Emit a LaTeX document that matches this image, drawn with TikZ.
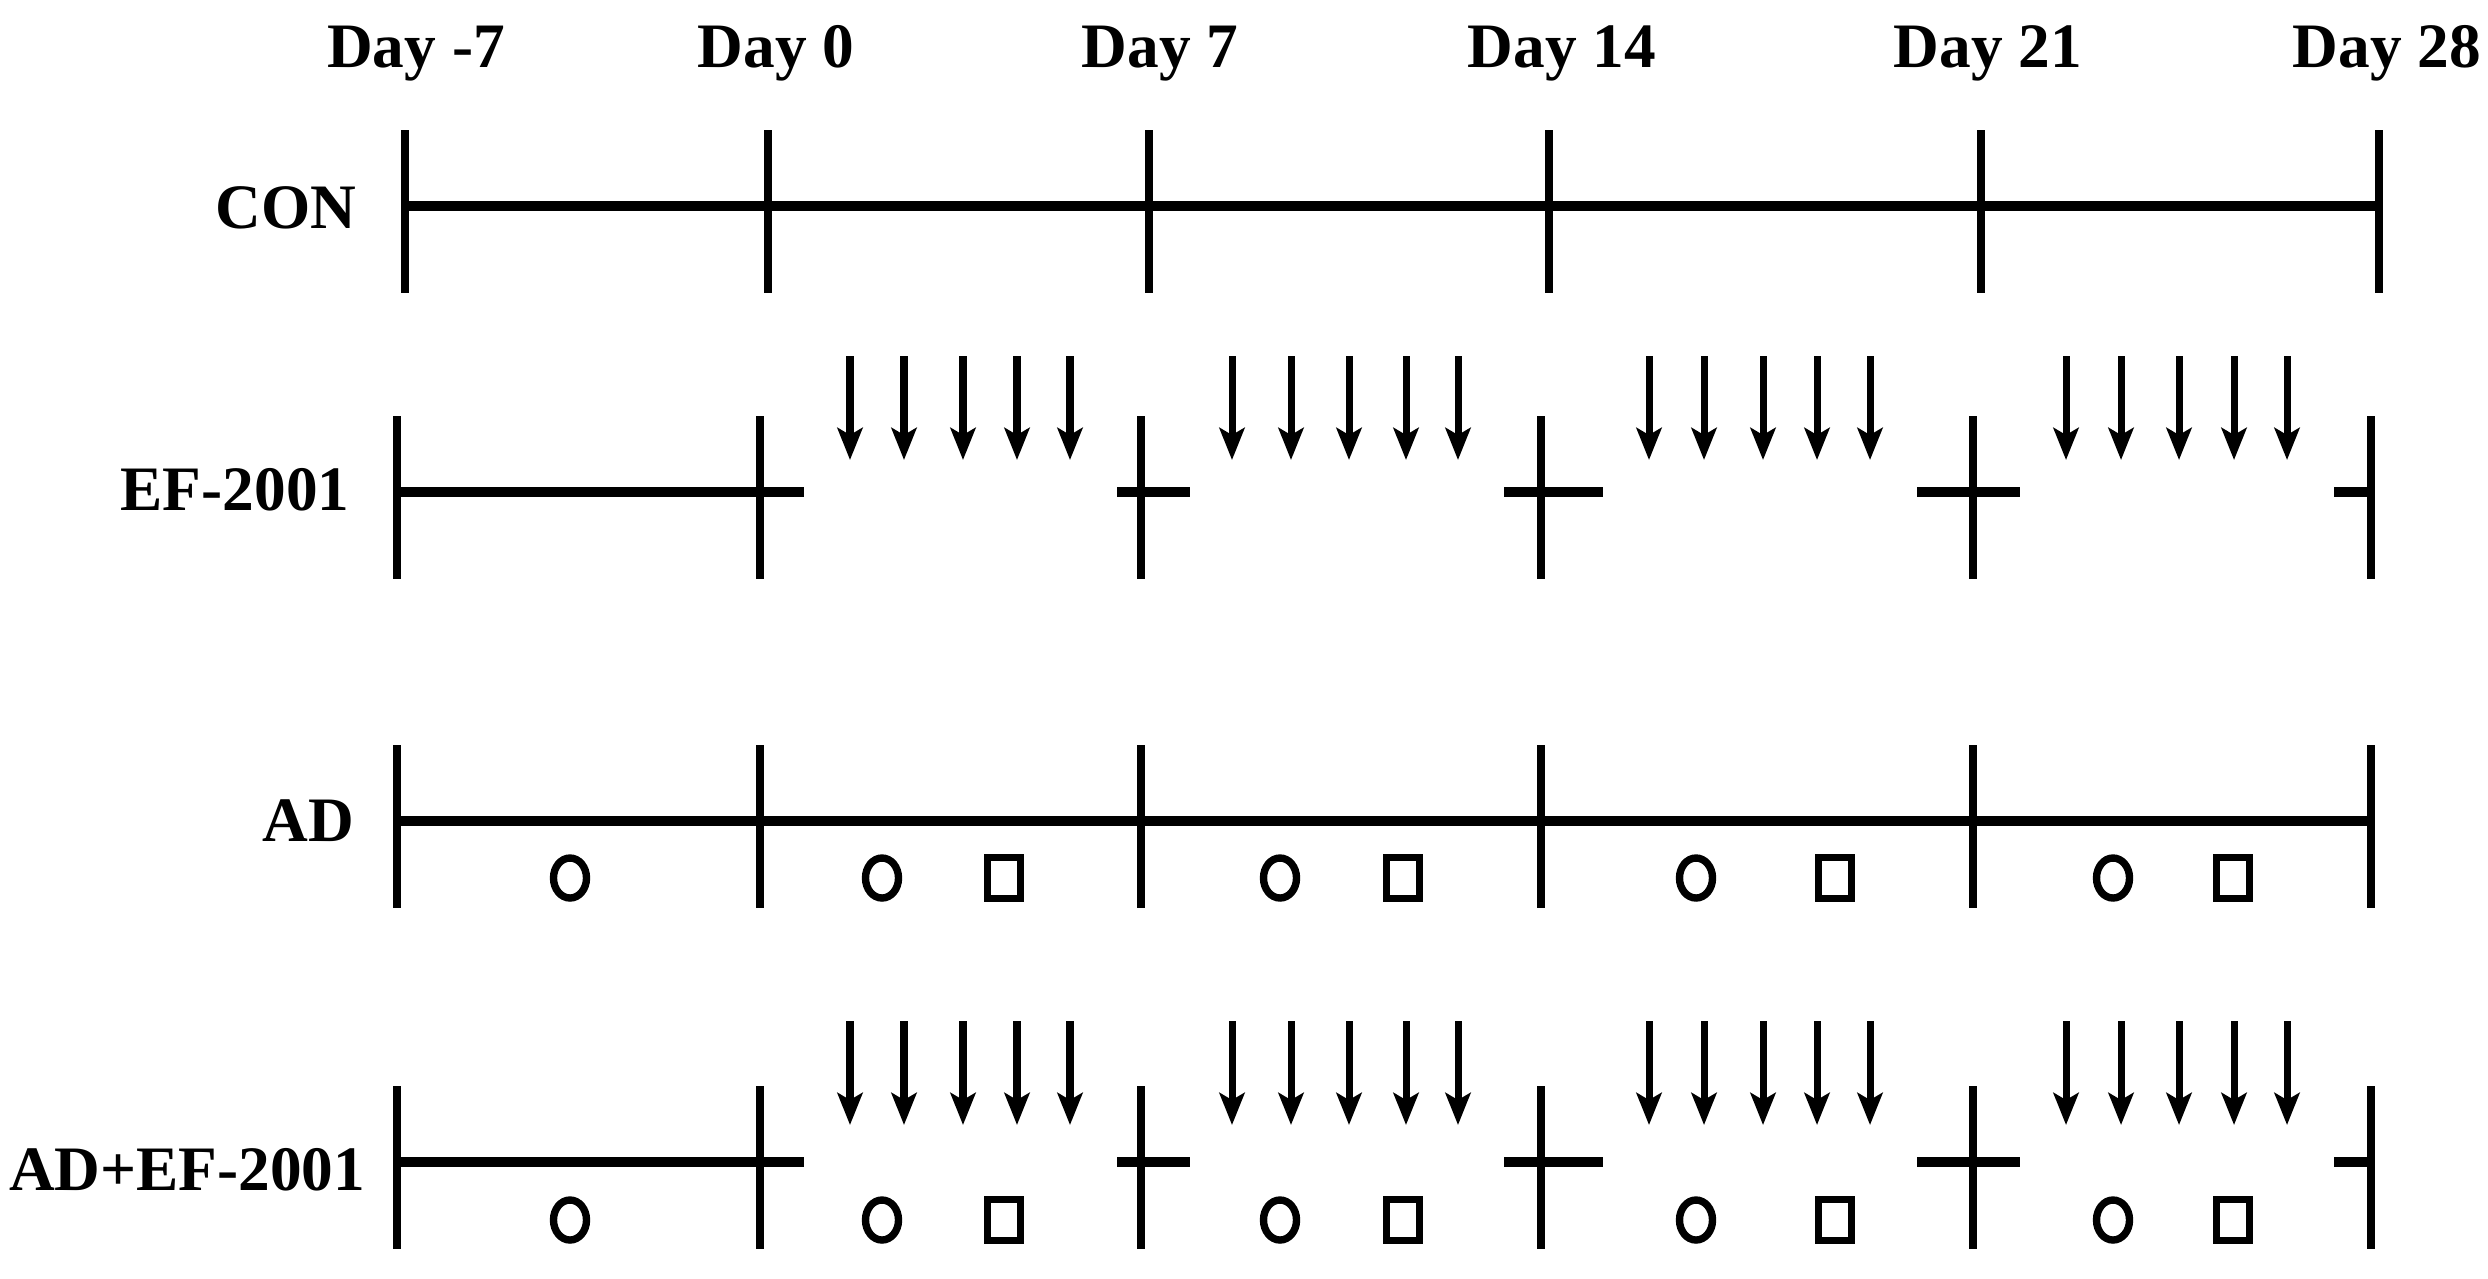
\documentclass[tikz,border=0pt]{standalone}
\usepackage{fontspec}
\setmainfont{Liberation Serif}
\usetikzlibrary{arrows.meta}

\begin{document}
\begin{tikzpicture}[x=0.01cm,y=-0.01cm,
    every node/.style={font=\bfseries\fontsize{18}{20}\selectfont,inner sep=0pt},
    tl/.style={line width=2.6pt},
    tick/.style={line width=2.3pt},
    dose/.style={line width=2pt,-{Stealth[length=0.32cm,width=0.25cm,inset=0.07cm]}},
    sym/.style={line width=2.1pt}]
    \useasboundingbox (0,0) rectangle (2488,1278);
    %days
    \node[anchor=base] (dm7) at (416,67) {Day -7};
    \node[anchor=base] (d0) at (776,67) {Day 0};
    \node[anchor=base] (d7) at (1160,67) {Day 7};
    \node[anchor=base] (d14) at (1562,67) {Day 14};
    \node[anchor=base] (d21) at (1988,67) {Day 21};
    \node[anchor=base] (d28) at (2387,67) {Day 28};
    %groups
    \node[anchor=east] (con) at (357,208) {CON};
    \node[anchor=east] (ef) at (350,490) {EF-2001};
    \node[anchor=east] (ad) at (355,821) {AD};
    \node[anchor=east] (adef) at (366,1170) {AD+EF-2001};
    \foreach \r/\y/\s in {con/206/8,ef/492/0,ad/821/0,adef/1162/0}
        \foreach \d/\x in {0/397,1/760,2/1141,3/1541,4/1973,5/2371}
            \coordinate (\r\d) at (\x+\s,\y);
    \foreach \r in {con,ef,ad,adef}
        \foreach \d in {0,...,5}
            \draw[tick] (\r\d) ++(0,-76) -- ++(0,163);
    \draw[tl] (con0) -- (con5);
    \draw[tl] (ad0) -- (ad5);
    \foreach \r in {ef,adef}{
        \draw[tl] (\r0) -- (\r1) -- ++(44,0);
        \foreach \d/\a/\b in {2/24/49,3/37/62,4/56/47,5/37/0}
            \draw[tl] (\r\d) ++(-\a,0) -- ++(\a+\b,0);
    }
    %doses
    \foreach \t in {356,1021}
        \foreach \x in {850,904,963,1017,1070,1232,1291,1349,1406,1458,
                        1649,1704,1763,1817,1870,2066,2121,2179,2234,2287}
            \draw[dose] (\x,\t) -- (\x,\t+104);
    %marks
    \foreach \y in {878,1220}{
        \foreach \x in {570,882,1280,1696,2113}
            \draw[sym] (\x,\y) ellipse [x radius=0.165cm,y radius=0.2cm];
        \foreach \x in {1004,1403,1835,2233}
            \draw[sym] (\x-16.5,\y-20.5) rectangle ++(33,41);
    }
\end{tikzpicture}
\end{document}
